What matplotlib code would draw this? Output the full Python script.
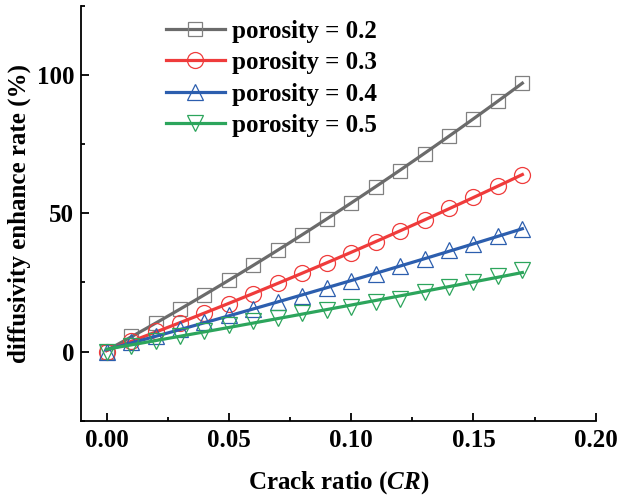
import numpy as np
import matplotlib
matplotlib.use("Agg")
import matplotlib.pyplot as plt
from matplotlib.lines import Line2D
from matplotlib.ticker import MultipleLocator

# crack ratio values (x) and enhance rate (%) for each porosity
crack_ratio = [0.00, 0.01, 0.02, 0.03, 0.04, 0.05, 0.06, 0.07, 0.08,
               0.09, 0.10, 0.11, 0.12, 0.13, 0.14, 0.15, 0.16, 0.17]
rate_02 = [0, 5.7, 10.3, 15.4, 20.6, 25.8, 31.2, 36.9, 42.1,
           48.1, 53.9, 59.7, 65.4, 71.5, 77.8, 84.1, 90.8, 97.2]
rate_03 = [0, 4.0, 7.3, 10.5, 13.9, 17.3, 21.0, 24.8, 28.5,
           32.1, 35.7, 39.7, 43.6, 47.6, 51.8, 55.9, 59.9, 63.9]
rate_04 = [0, 3.4, 5.8, 8.2, 10.7, 13.1, 15.4, 17.9, 20.2,
           22.9, 25.6, 28.2, 30.9, 33.6, 36.6, 39.0, 41.8, 44.3]
rate_05 = [0, 2.2, 4.0, 5.8, 7.6, 9.5, 11.1, 12.3, 13.9,
           15.1, 16.2, 17.9, 19.2, 21.4, 23.2, 25.2, 27.2, 29.4]
labels = ["porosity = 0.2", "porosity = 0.3", "porosity = 0.4", "porosity = 0.5"]

plt.rcParams['font.family'] = ['Liberation Serif', 'DejaVu Serif']
plt.rcParams['font.weight'] = 'bold'
plt.rcParams['font.size'] = 18
plt.rcParams['mathtext.fontset'] = 'custom'
plt.rcParams['mathtext.rm'] = 'Liberation Serif:bold'
plt.rcParams['mathtext.it'] = 'Liberation Serif:italic:bold'
plt.rcParams['mathtext.bf'] = 'Liberation Serif:bold'

fig = plt.figure(figsize=(6.17, 4.98), dpi=100)
ax = fig.add_axes([0.1313, 0.1552, 0.8342, 0.8328])

styles = [
    (rate_02, 's', '#6b6b6b', '#808080', 10),
    (rate_03, 'o', '#ef3b3b', '#ef3b3b', 11.5),
    (rate_04, '^', '#2c5eae', '#2c5eae', 11.5),
    (rate_05, 'v', '#2ca55c', '#2ca55c', 11.5),
]

x = np.array(crack_ratio)
xf = np.linspace(x[0], x[-1], 100)
handles = []
for (vals, mk, lc, mc, ms), lab in zip(styles, labels):
    y = np.array(vals)
    # markers = data points, line = fitted curve
    ax.plot(x, y, linestyle='none', marker=mk, markersize=ms,
            markerfacecolor='none', markeredgecolor=mc, markeredgewidth=0.9)
    coef = np.polyfit(x, y, 2)
    ax.plot(xf, np.polyval(coef, xf), color=lc, linewidth=2.3)
    handles.append(Line2D([], [], color=lc, linewidth=2.3, marker=mk,
                          markersize=ms, markerfacecolor='none',
                          markeredgecolor=mc, markeredgewidth=0.9))

ax.set_xlim(-0.0105, 0.20)
ax.set_ylim(-25, 125)
ax.xaxis.set_major_locator(MultipleLocator(0.05))
ax.xaxis.set_minor_locator(MultipleLocator(0.025))
ax.yaxis.set_major_locator(MultipleLocator(50))
ax.yaxis.set_minor_locator(MultipleLocator(25))
ax.xaxis.set_major_formatter(plt.FormatStrFormatter('%.2f'))

for s in ['top', 'right']:
    ax.spines[s].set_visible(False)
for s in ['left', 'bottom']:
    ax.spines[s].set_linewidth(1.3)

ax.tick_params(which='major', direction='in', length=5.8, width=1.3)
ax.tick_params(which='minor', direction='in', length=3, width=1.3)
ax.tick_params(axis='x', which='major', pad=6)
ax.tick_params(axis='y', which='major', pad=5)

ax.set_xlabel('Crack ratio ($\\mathit{CR}$)', fontweight='bold', labelpad=12)
ax.set_ylabel('diffusivity enhance rate (%)', fontweight='bold', labelpad=4)

ax.legend(handles, labels, loc='upper left', bbox_to_anchor=(0.138, 1.0),
          frameon=False, handlelength=2.35, handletextpad=0.3,
          labelspacing=0.34, borderaxespad=0.15,
          prop={'family': 'Liberation Serif', 'weight': 'bold', 'size': 18})

fig.savefig('out.png', dpi=100)
